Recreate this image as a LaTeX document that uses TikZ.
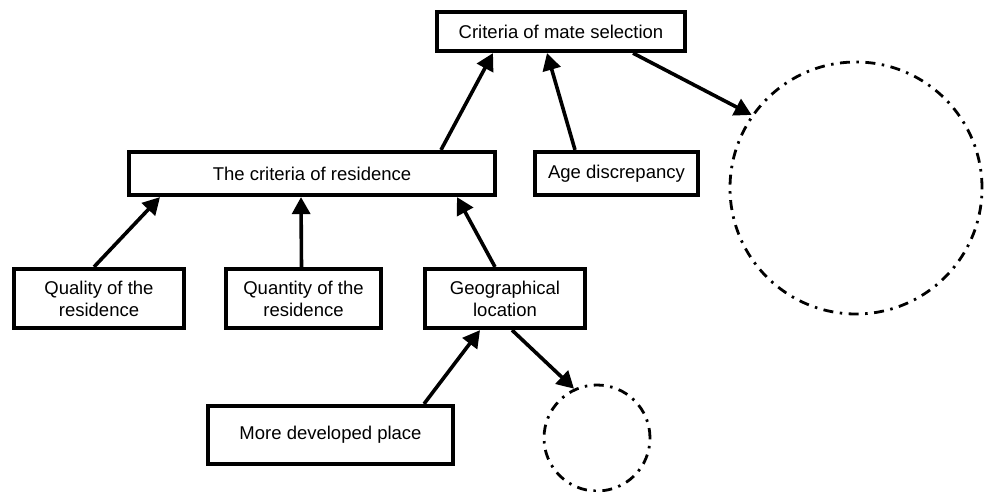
\documentclass[tikz,border=0pt]{standalone}
\usepackage{fontspec}
\setmainfont{Liberation Sans}
\usetikzlibrary{arrows.meta,calc}
\begin{document}
\begin{tikzpicture}[x=1pt,y=-1pt,
  box/.style={draw=black,line width=4.2pt,rectangle,inner sep=0pt,align=center,
    font=\fontsize{18.5}{22}\selectfont},
  conn/.style={line width=3.6pt,-{Triangle[length=17pt,width=18pt]}},
  ring/.style={draw=black,circle,inner sep=0pt,line width=2.8pt,
    dash pattern=on 10pt off 6.5pt on 2.5pt off 6.5pt}]
  \useasboundingbox (0,0) rectangle (986,491);

  % boxes
  \node[box,minimum width=248pt,minimum height=39pt] (top) at (561,31.5) {Criteria of mate selection};
  \node[box,minimum width=366pt,minimum height=43pt] (res) at (312,173.5) {The criteria of residence};
  \node[box,minimum width=163pt,minimum height=43pt] (age) at (616.5,173.5) {Age discrepancy};
  \node[box,minimum width=170pt,minimum height=59pt] (qual) at (99,298.5) {Quality of the\\residence};
  \node[box,minimum width=155pt,minimum height=59pt] (quan) at (303.5,298.5) {Quantity of the\\residence};
  \node[box,minimum width=160pt,minimum height=59pt] (geo) at (505,298.5) {Geographical\\location};
  \node[box,minimum width=245pt,minimum height=58pt] (more) at (330.5,435) {More developed place};

  % open circles
  \node[ring,minimum size=252pt] (bigc) at (856,188) {};
  \node[ring,minimum size=106pt] (smallc) at (597,438) {};

  % connectors
  \draw[conn] ([xshift=129pt]res.north) -- ([xshift=-68pt]top.south);
  \draw[conn] ([xshift=-41.5pt]age.north) -- ([xshift=-14pt]top.south);
  \draw[conn] ([xshift=72pt]top.south) -- (bigc.145);
  \draw[conn] ([xshift=-5pt]qual.north) -- ([xshift=-152pt]res.south);
  \draw[conn] ([xshift=-2pt]quan.north) -- ([xshift=-11pt]res.south);
  \draw[conn] ([xshift=-10pt]geo.north) -- ([xshift=145pt]res.south);
  \draw[conn] ([xshift=93.5pt]more.north) -- ([xshift=-25pt]geo.south);
  \draw[conn] ([xshift=7pt]geo.south) -- (smallc.115);
\end{tikzpicture}
\end{document}
